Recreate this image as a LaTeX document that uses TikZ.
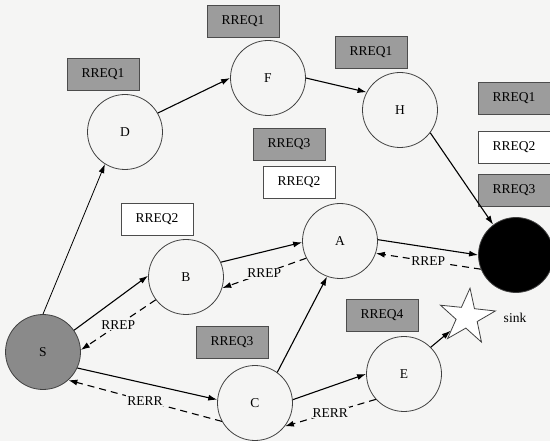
\documentclass[tikz,border=0pt]{standalone}
\usepackage{fontspec}
\setmainfont{Liberation Serif}
\usetikzlibrary{arrows.meta,shapes.geometric}
\definecolor{bgc}{HTML}{F5F5F4}
\definecolor{boxgray}{HTML}{9C9C9C}
\definecolor{srcgray}{HTML}{8A8A8A}
\tikzset{
  station/.style={circle,draw=black!75,line width=0.8pt,fill=bgc,minimum size=75pt,inner sep=0pt,font=\fontsize{13.5}{15}\selectfont},
  tagbox/.style={rectangle,draw=black!70,line width=0.8pt,minimum width=72pt,minimum height=32pt,inner sep=0pt,font=\fontsize{13.5}{15}\selectfont},
  graytag/.style={tagbox,fill=boxgray},
  whitetag/.style={tagbox,fill=white},
  req/.style={line width=1.1pt,-{Latex[length=9pt,width=6pt]}},
  rep/.style={line width=1.1pt,dash pattern=on 7pt off 5pt,-{Latex[length=9pt,width=6pt]}},
  msg/.style={fill=bgc,inner sep=1pt,font=\fontsize{13.5}{15}\selectfont}
}
\begin{document}
\begin{tikzpicture}[x=1pt,y=-1pt]
  \fill[bgc] (0,0) rectangle (550,441);
  \useasboundingbox (0,0) rectangle (550,441);

  % request tags
  \node[graytag]  (tD) at (103,74)  {RREQ1};
  \node[graytag]  (tF) at (243,21)  {RREQ1};
  \node[graytag]  (tH) at (371,52)  {RREQ1};
  \node[graytag]  (tK1) at (514,98) {RREQ1};
  \node[whitetag] (tK2) at (514,147) {RREQ2};
  \node[graytag]  (tK3) at (514,190) {RREQ3};
  \node[graytag]  (tA3) at (289,144) {RREQ3};
  \node[whitetag] (tA2) at (299,182) {RREQ2};
  \node[whitetag] (tB) at (157,219) {RREQ2};
  \node[graytag]  (tC) at (232,342) {RREQ3};
  \node[graytag]  (tE) at (382,315) {RREQ4};

  % nodes
  \node[station,fill=srcgray] (S) at (43,352) {S};
  \node[station] (D) at (125,132) {D};
  \node[station] (F) at (268,78) {F};
  \node[station] (H) at (400,110) {H};
  \node[station] (A) at (340,241) {A};
  \node[station] (B) at (186,277) {B};
  \node[station] (C) at (255,403) {C};
  \node[station] (E) at (404,374) {E};
  \node[station,fill=black] (K) at (516,255) {};
  \node[star,star points=5,star point ratio=2.6,draw=black!75,line width=0.8pt,fill=white,
        minimum size=58pt,inner sep=0pt,rotate=-6] (T) at (467,317) {};
  \node[font=\fontsize{13.5}{15}\selectfont] (sinklabel) at (515,318) {sink};

  % route requests
  \draw[line width=0.8pt,-{Latex[length=9pt,width=6pt]}] (S.90) -- (D.238);
  \draw[req] (D.30) -- (F.180);
  \draw[req] (F.0) -- (H.152);
  \draw[req] (H.323) -- (K.127);
  \draw[req] (S.35) -- (B.178);
  \draw[req] (B.23) -- (A.182);
  \draw[req] (A.2) -- (K.180);
  \draw[req] (S.335) -- (C.175);
  \draw[req] (C.54) -- (A.250);
  \draw[req] (C.5) -- (E.180);
  \draw[req] (E.45) -- (T);

  % replies and errors
  \draw[rep] (B.217) -- node[msg] {RREP} (S.3);
  \draw[rep] (A.207) -- node[msg] {RREP} (B.343);
  \draw[rep] (K.202) -- node[msg] {RREP} (A.341);
  \draw[rep] (C.209) -- node[msg] {RERR} (S.312);
  \draw[rep] (E.222) -- node[msg] {RERR} (C.322);
\end{tikzpicture}
\end{document}
